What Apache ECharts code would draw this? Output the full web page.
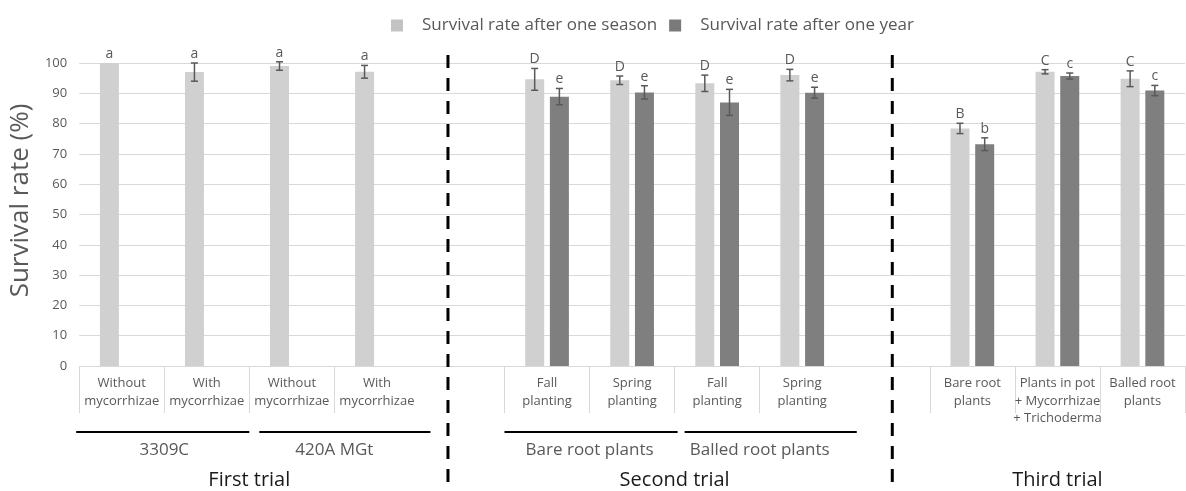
<!DOCTYPE html>
<html><head><meta charset="utf-8">
<script src="https://cdn.jsdelivr.net/npm/echarts@6/dist/echarts.min.js"></script>
<style>html,body{margin:0;padding:0;background:#fff}#c{width:1186px;height:491px}</style>
</head><body><div id="c"></div>
<script>
const categories = ['Without\nmycorrhizae','With\nmycorrhizae','Without\nmycorrhizae','With\nmycorrhizae','',
  'Fall\nplanting','Spring\nplanting','Fall\nplanting','Spring\nplanting','',
  'Bare root\nplants','Plants in pot\n+ Mycorrhizae\n+ Trichoderma','Balled root\nplants'];
const seasonValues = [100, 97, 99, 97.1, null, 94.6, 94.3, 93.3, 96.0, null, 78.4, 97.1, 94.8];
const seasonErrors = [0, 3, 1.4, 2.1, null, 3.6, 1.4, 2.7, 1.9, null, 1.7, 0.7, 2.6];
const seasonLetters = ['a','a','a','a','', 'D','D','D','D','', 'B','C','C'];
const yearValues = [null, null, null, null, null, 88.9, 90.3, 87.0, 90.2, null, 73.2, 95.7, 90.9];
const yearErrors = [null, null, null, null, null, 2.7, 2.2, 4.3, 1.8, null, 2.1, 1.0, 1.7];
const yearLetters = ['','','','','', 'e','e','e','e','', 'b','c','c'];
const yTicks = [0,10,20,30,40,50,60,70,80,90,100];
const groupLabels = ['3309C','420A MGt','Bare root plants','Balled root plants'];
const groupSpans = [[0,1],[2,3],[5,6],[7,8]];
const trialLabels = ['First trial','Second trial','Third trial'];
const trialSpans = [[0,3],[5,8],[10,12]];
const seriesNames = ['Survival rate after one season','Survival rate after one year'];

const FONT = '"Open Sans", sans-serif';
const BAR_W = 19, BAR_GAP = 0.3;
const chart = echarts.init(document.getElementById('c'), null, {renderer:'canvas'});

function errSeries(vals, errs, letters, side) {
  const data = [];
  vals.forEach((v, i) => { if (v != null) data.push([i, v, errs[i] || 0, i]); });
  return {
    type: 'custom', z: 5, silent: true, clip: false,
    data: data,
    renderItem: function (params, api) {
      const i = api.value(0), v = api.value(1), e = api.value(2), li = api.value(3);
      const top = api.coord([i, v + e]);
      const bot = api.coord([i, v - e]);
      const x = top[0] + side * (BAR_W + BAR_W * BAR_GAP) / 2;
      const children = [];
      const ls = {stroke: '#595959', lineWidth: 1.5};
      if (e > 0) {
        children.push({type:'line', shape:{x1:x, y1:top[1], x2:x, y2:bot[1]}, style:ls});
        children.push({type:'line', shape:{x1:x-3.5, y1:top[1], x2:x+3.5, y2:top[1]}, style:ls});
        children.push({type:'line', shape:{x1:x-3.5, y1:bot[1], x2:x+3.5, y2:bot[1]}, style:ls});
      }
      children.push({type:'text', style:{text: letters[li], x: x, y: top[1] - 2,
        align:'center', verticalAlign:'bottom', fontSize: 14, fontFamily: FONT, fill:'#595959'}});
      return {type:'group', children: children};
    }
  };
}

chart.setOption({
  animation: false,
  backgroundColor: '#fff',
  legend: {
    left: 386, top: 12, itemWidth: 12, itemHeight: 12, itemGap: 12, icon: 'rect',
    textStyle: {fontSize: 17, color: '#595959', fontFamily: FONT, padding: [0,0,0,14]},
    data: [{name: seriesNames[0], itemStyle:{color:'#c3c3c3'}}, {name: seriesNames[1], itemStyle:{color:'#7a7a7a'}}]
  },
  grid: {left: 76, right: 1, top: 63, bottom: 125, containLabel: false},
  xAxis: {
    type: 'category', data: categories,
    axisLine: {show: true, lineStyle: {color: '#d9d9d9', width: 1}},
    axisTick: {show: true, length: 47, lineStyle: {color: '#d9d9d9', width: 1},
      interval: function (idx) { return categories[idx] !== ''; }},
    axisLabel: {interval: 0, fontSize: 13, lineHeight: 17.5, color: '#595959', fontFamily: FONT, margin: 9},
    splitLine: {show: false}
  },
  yAxis: {
    type: 'value', min: yTicks[0], max: yTicks[yTicks.length-1], interval: yTicks[1]-yTicks[0],
    name: 'Survival rate (%)', nameLocation: 'middle', nameGap: 38,
    nameTextStyle: {fontSize: 26, color: '#595959', fontFamily: FONT, padding: [0, 0, 0, 28]},
    axisLine: {show: false}, axisTick: {show: false},
    axisLabel: {fontSize: 13, color: '#595959', fontFamily: FONT, margin: 12},
    splitLine: {lineStyle: {color: '#d9d9d9', width: 1}}
  },
  series: [
    {type: 'bar', name: seriesNames[0], data: seasonValues, barWidth: BAR_W, barGap: (BAR_GAP*100)+'%',
      itemStyle: {color: '#d0d0d0'}},
    {type: 'bar', name: seriesNames[1], data: yearValues, barWidth: BAR_W, barGap: (BAR_GAP*100)+'%',
      itemStyle: {color: '#7f7f7f'}},
    errSeries(seasonValues, seasonErrors, seasonLetters, -1),
    errSeries(yearValues, yearErrors, yearLetters, 1)
  ]
});

// Annotations below the axis, positioned from the category scale
const c0 = chart.convertToPixel({xAxisIndex: 0}, 0);
const c1 = chart.convertToPixel({xAxisIndex: 0}, 1);
const band = c1 - c0;
const bnd = i => c0 - band / 2 + i * band;
const graphics = [];
const lineOffsets = [[-3, 0], [10, 11], [0, 3], [10, 12]];
groupSpans.forEach((s, k) => {
  graphics.push({type:'line', shape:{x1: bnd(s[0]) + lineOffsets[k][0], y1: 432, x2: bnd(s[1]+1) + lineOffsets[k][1], y2: 432},
    style:{stroke:'#000', lineWidth: 2}});
  graphics.push({type:'text', style:{text: groupLabels[k], x: (bnd(s[0]) + bnd(s[1]+1)) / 2, y: 450,
    align:'center', verticalAlign:'middle', fontSize: 17, fontFamily: FONT, fill:'#595959'}});
});
trialSpans.forEach((s, k) => {
  graphics.push({type:'text', style:{text: trialLabels[k], x: (bnd(s[0]) + bnd(s[1]+1)) / 2, y: 480,
    align:'center', verticalAlign:'middle', fontSize: 20, fontFamily: FONT, fill:'#1a1a1a'}});
});
[[4, -14], [9, 5]].forEach(d => {
  const x = chart.convertToPixel({xAxisIndex: 0}, d[0]) + d[1];
  graphics.push({type:'line', shape:{x1: x, y1: 55, x2: x, y2: 485},
    style:{stroke:'#000', lineWidth: 3, lineDash:[13, 10]}, z: 10});
});
chart.setOption({graphic: graphics});
</script></body></html>
